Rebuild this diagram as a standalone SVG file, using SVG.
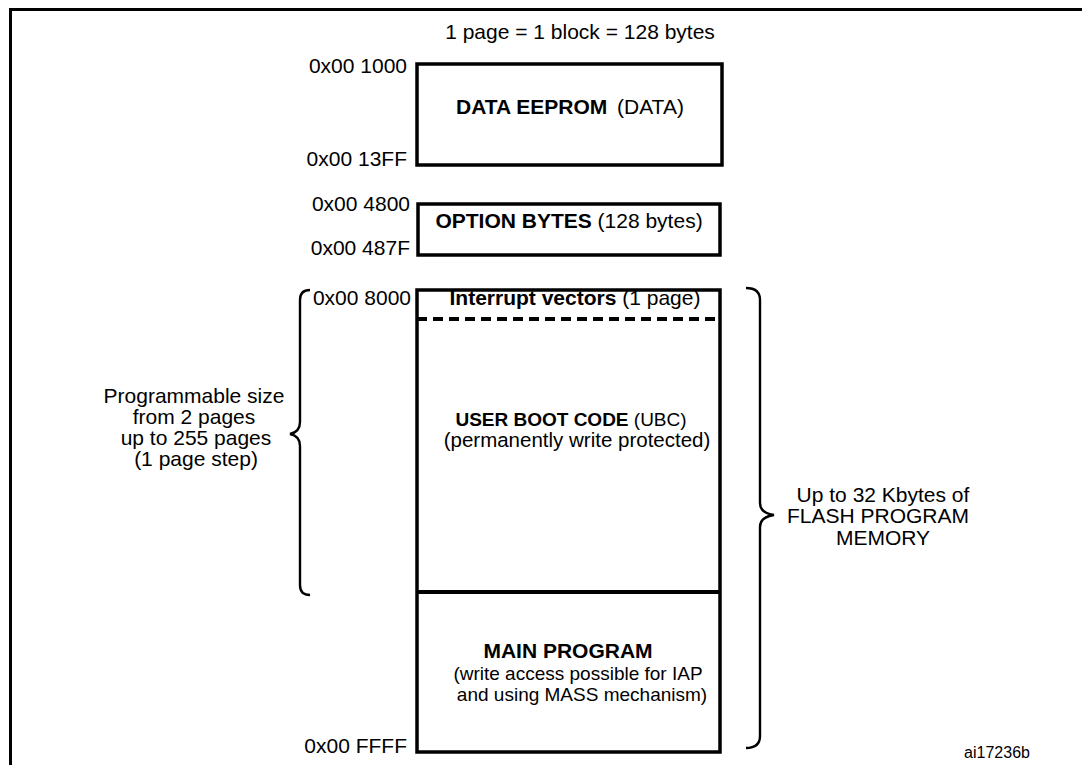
<svg xmlns="http://www.w3.org/2000/svg" width="1082" height="765" viewBox="0 0 1082 765">
<style>
text{font-family:"Liberation Sans",Arial,Helvetica,sans-serif;font-size:21px;fill:#000}
.b{font-weight:bold}
.m{text-anchor:middle}
.e{text-anchor:end}
.s{font-size:19px}
.box{fill:#fff;stroke:#000;stroke-width:3.5}
.brace{fill:none;stroke:#000;stroke-width:2.4}
</style>
<rect width="1082" height="765" fill="#fff"/>
<path d="M10.5,765 V9.5 H1082" fill="none" stroke="#000" stroke-width="3"/>
<text x="580" y="39" class="m">1 page = 1 block = 128 bytes</text>

<g id="data-eeprom">
<rect class="box" x="417" y="64" width="305" height="101"/>
<text x="456" y="114"><tspan class="b">DATA EEPROM</tspan><tspan x="617">(DATA)</tspan></text>
<text x="407" y="73" class="e">0x00 1000</text>
<text x="407" y="166" class="e">0x00 13FF</text>
</g>

<g id="option-bytes">
<rect class="box" x="418" y="204" width="302" height="51"/>
<text x="569" y="228" class="m"><tspan class="b">OPTION BYTES</tspan> (128 bytes)</text>
<text x="410" y="211" class="e">0x00 4800</text>
<text x="410" y="255" class="e">0x00 487F</text>
</g>

<g id="flash">
<rect class="box" x="417" y="290" width="303" height="462"/>
<text x="411" y="305" class="e">0x00 8000</text>
<text x="407" y="753" class="e">0x00 FFFF</text>
</g>

<g id="interrupt-vectors">
<text x="575" y="305" class="m"><tspan class="b">Interrupt vectors</tspan> (1 page)</text>
<line x1="417" y1="319" x2="720" y2="319" stroke="#000" stroke-width="4" stroke-dasharray="10,6"/>
</g>

<g id="ubc">
<text x="571" y="426" class="m s"><tspan class="b">USER BOOT CODE</tspan> (UBC)</text>
<text x="577" y="447" class="m" style="font-size:20.5px">(permanently write protected)</text>
</g>

<g id="main-program">
<line x1="417" y1="592" x2="720" y2="592" stroke="#000" stroke-width="4"/>
<text x="568" y="658" class="m b">MAIN PROGRAM</text>
<text x="578" y="680" class="m s">(write access possible for IAP</text>
<text x="582" y="701" class="m s">and using MASS mechanism)</text>
</g>

<g id="connectors">
<path class="brace" d="M310,290 Q300,290 300,300 V422 Q300,432 290,434 Q300,436 300,446 V585 Q300,595 310,595"/>
<path class="brace" d="M746,288 Q760,288 760,300 V503 Q760,513 774,515 Q760,517 760,527 V736 Q760,748 746,748"/>
</g>

<g id="ubc-size-label">
<text x="194" y="403" class="m">Programmable size</text>
<text x="194" y="424" class="m">from 2 pages</text>
<text x="196" y="445" class="m">up to 255 pages</text>
<text x="196" y="466" class="m">(1 page step)</text>
</g>

<g id="flash-size-label">
<text x="883" y="502" class="m">Up to 32 Kbytes of</text>
<text x="878" y="523" class="m">FLASH PROGRAM</text>
<text x="883" y="545" class="m">MEMORY</text>
</g>

<text x="997" y="758" class="m" style="font-size:16px">ai17236b</text>
</svg>
